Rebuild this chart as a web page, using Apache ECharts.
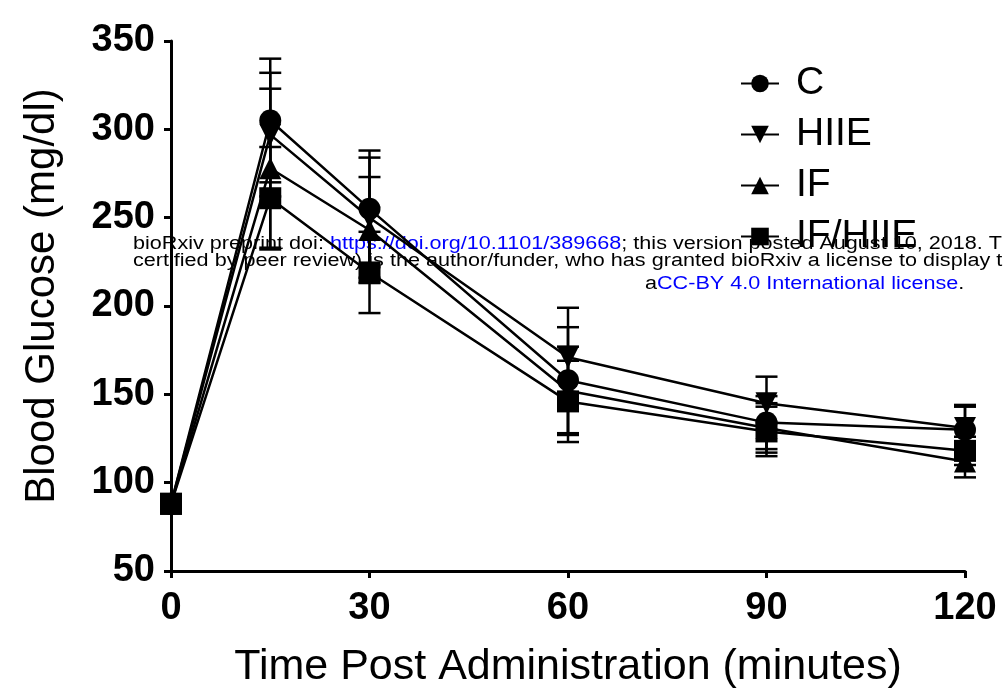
<!DOCTYPE html>
<html>
<head>
<meta charset="utf-8">
<script src="https://cdn.jsdelivr.net/npm/echarts@6/dist/echarts.min.js"></script>
<style>
  html, body { margin: 0; padding: 0; background: #fff; }
  #main { width: 1003px; height: 691px; }
</style>
</head>
<body>
<div id="main"></div>
<script>
// minutes after administration
var time = [0, 15, 30, 60, 90, 120];
// mean blood glucose (mg/dl)
var cVals = [88, 305, 255, 158, 134, 130];
var hiieVals = [88, 297, 250, 171, 145, 131];
var ifVals = [88, 278, 243, 152, 131, 112];
var ifHiieVals = [88, 261, 219, 146, 129, 118];
// error bar half-lengths
var cErr = [3, 35, 33, 30, 15, 14];
var hiieErr = [3, 35, 34, 28, 15, 12];
var ifErr = [3, 45, 30, 25, 14, 9];
var ifHiieErr = [3, 29, 23, 23, 14, 8];

var xTicks = [0, 30, 60, 90, 120];
var yTicks = [50, 100, 150, 200, 250, 300, 350];

var font = '"Liberation Sans", Arial, sans-serif';

function pairs(vals) {
  return time.map(function (t, i) { return [t, vals[i]]; });
}
function triples(vals, errs) {
  return time.map(function (t, i) { return [t, vals[i], errs[i]]; });
}

function errorBars(api) {
  var x = api.value(0), y = api.value(1), e = api.value(2);
  var hi = api.coord([x, y + e]);
  var lo = api.coord([x, y - e]);
  var w = 11;
  var st = { stroke: '#000', lineWidth: 2.5 };
  return {
    type: 'group',
    children: [
      { type: 'line', shape: { x1: hi[0], y1: hi[1], x2: lo[0], y2: lo[1] }, style: st },
      { type: 'line', shape: { x1: hi[0] - w, y1: hi[1], x2: hi[0] + w, y2: hi[1] }, style: st },
      { type: 'line', shape: { x1: lo[0] - w, y1: lo[1], x2: lo[0] + w, y2: lo[1] }, style: st }
    ]
  };
}

function lineSeries(name, vals, symbol, rotate) {
  return {
    name: name,
    type: 'line',
    data: pairs(vals),
    symbol: symbol,
    symbolSize: 22,
    symbolRotate: rotate || 0,
    showSymbol: true,
    z: 3,
    lineStyle: { color: '#000', width: 2.5 },
    itemStyle: { color: '#000', borderWidth: 0 },
    emphasis: { disabled: true }
  };
}

function errSeries(name, vals, errs) {
  return {
    name: name + ' err',
    type: 'custom',
    data: triples(vals, errs),
    encode: { x: 0, y: 1 },
    renderItem: function (params, api) { return errorBars(api); },
    z: 2,
    silent: true
  };
}

var myChart = echarts.init(document.getElementById('main'));
myChart.setOption({
  animation: false,
  backgroundColor: '#fff',
  grid: { left: 171, right: 38, top: 41, bottom: 120, containLabel: false, outerBoundsMode: 'none' },
  legend: {
    data: ['C', 'HIIE', 'IF', 'IF/HIIE'],
    orient: 'vertical',
    left: 735,
    top: 59,
    itemWidth: 38,
    itemHeight: 22,
    itemGap: 12,
    selectedMode: false,
    textStyle: { fontSize: 39, color: '#000', fontFamily: font, padding: [0, 0, 0, 12] }
  },
  xAxis: {
    type: 'value',
    min: 0,
    max: 120,
    interval: 30,
    name: 'Time Post Administration (minutes)',
    nameLocation: 'middle',
    nameGap: 75,
    nameMoveOverlap: false,
    nameTextStyle: { fontSize: 43, color: '#000', fontFamily: font },
    axisLine: { show: true, lineStyle: { color: '#000', width: 3 } },
    axisTick: { show: true, length: 7, lineStyle: { color: '#000', width: 3 } },
    axisLabel: {
      fontSize: 38, fontWeight: 'bold', color: '#000', fontFamily: font, margin: 19,
      formatter: function (v) { return xTicks.indexOf(v) >= 0 ? String(v) : ''; }
    },
    splitLine: { show: false }
  },
  yAxis: {
    type: 'value',
    min: 50,
    max: 350,
    interval: 50,
    name: 'Blood Glucose (mg/dl)',
    nameLocation: 'middle',
    nameGap: 108,
    nameMoveOverlap: false,
    nameTextStyle: { fontSize: 42, color: '#000', fontFamily: font, padding: [0, 0, 0, 20] },
    axisLine: { show: true, lineStyle: { color: '#000', width: 3 } },
    axisTick: { show: true, length: 7, lineStyle: { color: '#000', width: 3 } },
    axisLabel: {
      fontSize: 38, fontWeight: 'bold', color: '#000', fontFamily: font, margin: 16,
      formatter: function (v) { return yTicks.indexOf(v) >= 0 ? String(v) : ''; }
    },
    splitLine: { show: false }
  },
  graphic: [
    {
      type: 'text', left: 133, top: 235, z: 0, scaleX: 1.2,
      style: {
        text: '{k|bioRxiv preprint doi: }{u|https://doi.org/10.1101/389668}{k|; this version posted August 10, 2018. The copyright holder for this preprint (which was not}',
        rich: {
          k: { fill: '#000', fontSize: 18, fontFamily: font },
          u: { fill: '#0000ff', fontSize: 18, fontFamily: font }
        }
      }
    },
    {
      type: 'text', left: 133, top: 252, z: 0, scaleX: 1.2,
      style: {
        text: 'certified by peer review) is the author/funder, who has granted bioRxiv a license to display the preprint in perpetuity. It is made available under',
        fill: '#000', fontSize: 18, fontFamily: font
      }
    },
    {
      type: 'text', left: 645, top: 275, z: 0, scaleX: 1.2,
      style: {
        text: '{k|a}{u|CC-BY 4.0 International license}{k|.}',
        rich: {
          k: { fill: '#000', fontSize: 18, fontFamily: font },
          u: { fill: '#0000ff', fontSize: 18, fontFamily: font }
        }
      }
    }
  ],
  series: [
    errSeries('C', cVals, cErr),
    errSeries('HIIE', hiieVals, hiieErr),
    errSeries('IF', ifVals, ifErr),
    errSeries('IF/HIIE', ifHiieVals, ifHiieErr),
    lineSeries('C', cVals, 'circle'),
    lineSeries('HIIE', hiieVals, 'triangle', 180),
    lineSeries('IF', ifVals, 'triangle'),
    lineSeries('IF/HIIE', ifHiieVals, 'rect')
  ]
});
</script>
</body>
</html>
